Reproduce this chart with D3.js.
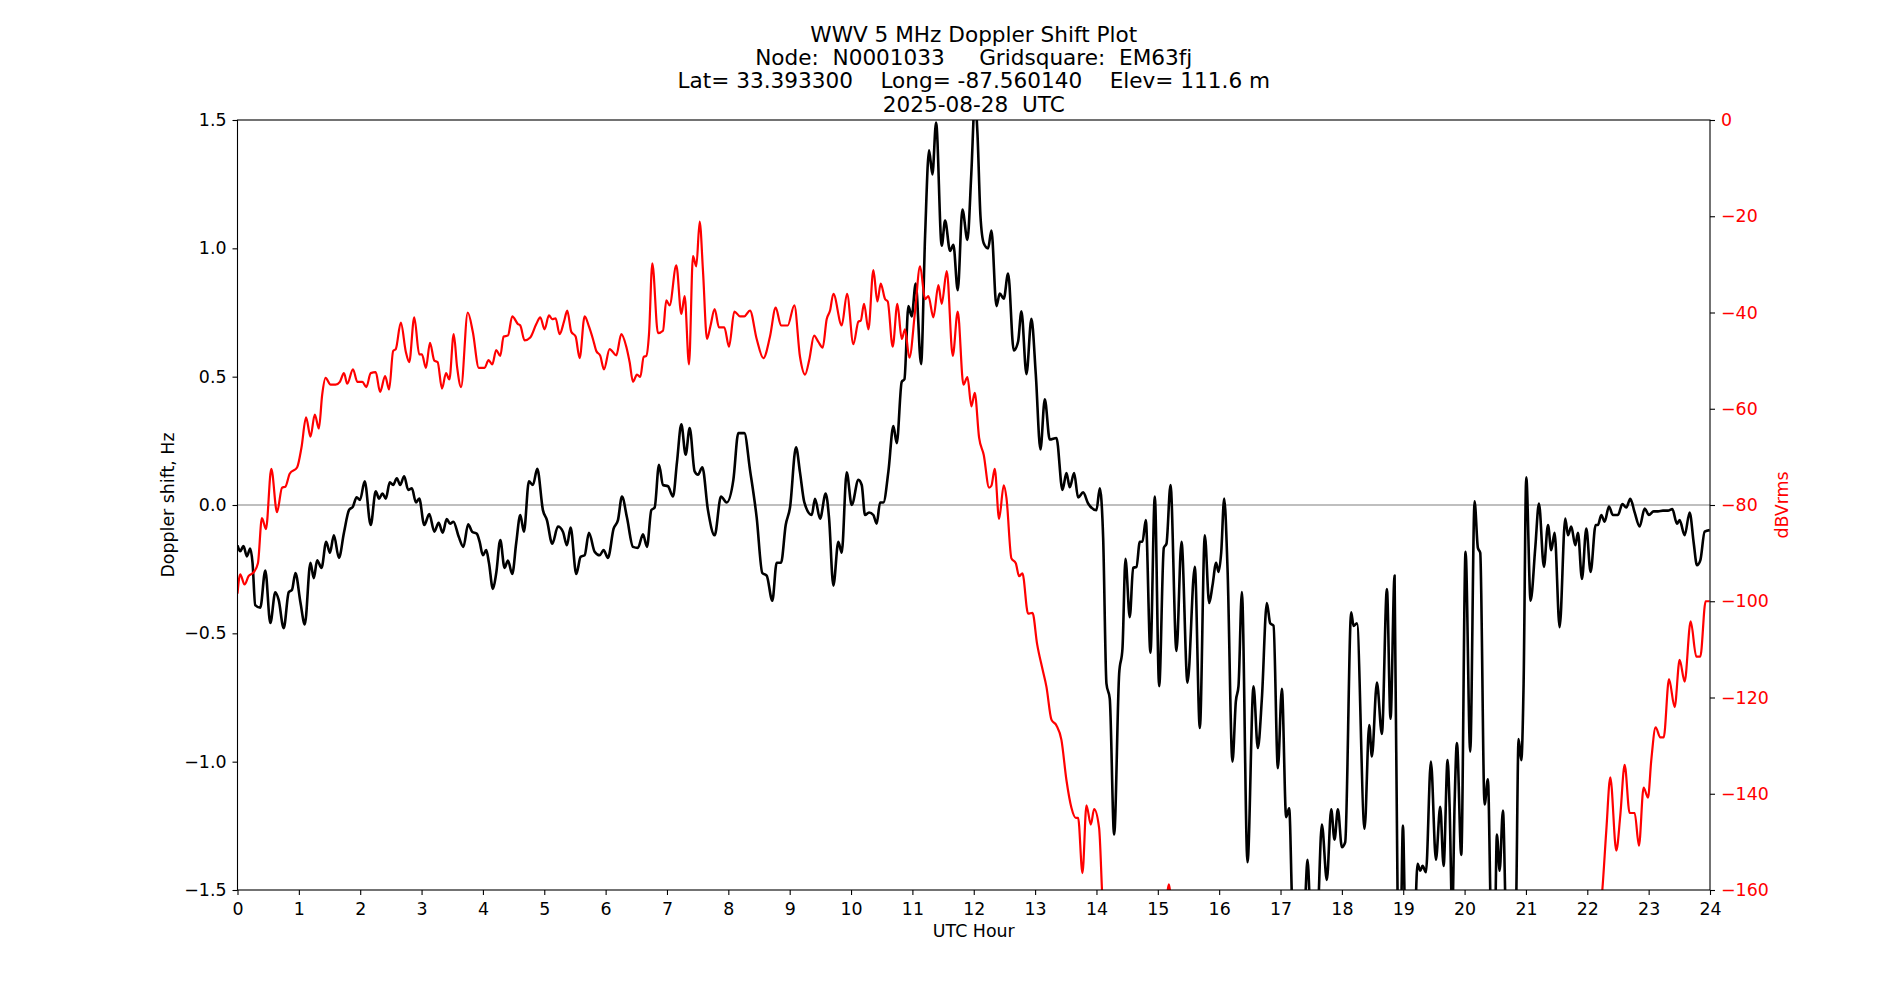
<!DOCTYPE html>
<html>
<head>
<meta charset="utf-8">
<script src="https://cdn.jsdelivr.net/npm/d3@7"></script>
<style>
body { margin: 0; background: #fff; }
text { font-family: "DejaVu Sans", sans-serif; }
</style>
</head>
<body>
<svg id="chart" width="1900" height="1000"></svg>
<script>
// ---- text ----
const titleLines = [
  "WWV 5 MHz Doppler Shift Plot",
  "Node:  N0001033     Gridsquare:  EM63fj",
  "Lat= 33.393300    Long= -87.560140    Elev= 111.6 m",
  "2025-08-28  UTC"
];
const xLabel = "UTC Hour";
const yLeftLabel = "Doppler shift, Hz";
const yRightLabel = "dBVrms";

// ---- ticks ----
const xTicks = d3.range(0, 25, 1);
const leftTicks = [-1.5, -1.0, -0.5, 0.0, 0.5, 1.0, 1.5];
const rightTicks = [-160, -140, -120, -100, -80, -60, -40, -20, 0];

// ---- Doppler shift series (black, left axis) ----
const dopplerHours = [
0.000,0.044,0.098,0.153,0.207,0.245,0.289,0.371,0.453,0.535,0.616,0.671,0.753,0.835,0.889,0.944,1.026,1.097,1.189,1.244,
1.298,1.369,1.446,1.506,1.571,1.653,1.735,1.817,1.882,1.942,1.997,2.073,2.171,2.253,2.308,2.362,2.417,2.482,2.537,2.597,
2.651,2.717,2.782,2.842,2.908,2.962,3.044,3.126,3.208,3.279,3.344,3.410,3.464,3.519,3.606,3.682,3.759,3.824,3.901,3.946,
4.000,4.054,4.098,4.163,4.217,4.283,4.353,4.408,4.478,4.543,4.609,4.668,4.750,4.815,4.886,4.978,5.043,5.130,5.223,5.304,
5.370,5.429,5.522,5.592,5.658,5.728,5.821,5.902,5.967,6.038,6.130,6.201,6.266,6.348,6.446,6.527,6.609,6.674,6.745,6.799,
6.870,6.935,7.016,7.098,7.163,7.234,7.304,7.370,7.451,7.505,7.576,7.668,7.777,7.880,7.973,8.082,8.163,8.261,8.353,8.462,
8.554,8.625,8.717,8.788,8.859,8.935,9.005,9.103,9.168,9.239,9.359,9.413,9.495,9.587,9.641,9.712,9.793,9.848,9.929,10.011,
10.120,10.174,10.228,10.293,10.364,10.418,10.473,10.527,10.609,10.690,10.745,10.826,10.870,10.935,10.989,11.054,11.141,11.207,11.272,11.326,
11.386,11.478,11.533,11.614,11.668,11.739,11.815,11.897,11.960,12.020,12.060,12.109,12.163,12.234,12.288,12.370,12.424,12.489,12.560,12.652,
12.723,12.777,12.859,12.940,13.011,13.087,13.158,13.239,13.348,13.446,13.511,13.565,13.636,13.701,13.783,13.864,14.000,14.054,14.109,14.163,
14.217,14.288,14.370,14.424,14.473,14.543,14.598,14.652,14.707,14.750,14.804,14.880,14.951,15.022,15.098,15.141,15.207,15.304,15.386,15.484,
15.603,15.685,15.766,15.837,15.891,15.951,15.989,16.033,16.082,16.136,16.217,16.272,16.315,16.370,16.462,16.560,16.630,16.696,16.777,16.832,
16.886,16.957,17.022,17.092,17.141,17.196,17.300,17.400,17.440,17.500,17.592,17.674,17.755,17.826,17.880,17.935,18.000,18.054,18.152,18.190,
18.245,18.370,18.446,18.489,18.571,18.652,18.734,18.793,18.859,18.913,18.955,18.995,19.040,19.168,19.234,19.277,19.315,19.370,19.451,19.533,
19.603,19.658,19.723,19.755,19.799,19.837,19.875,19.946,20.016,20.092,20.163,20.217,20.255,20.326,20.380,20.435,20.489,20.527,20.571,20.625,
20.679,20.761,20.832,20.880,20.924,20.962,21.005,21.076,21.152,21.212,21.293,21.359,21.413,21.467,21.549,21.641,21.685,21.739,21.804,21.848,
21.913,21.984,22.054,22.136,22.174,22.228,22.283,22.353,22.418,22.500,22.571,22.636,22.701,22.772,22.853,22.935,23.005,23.082,23.152,23.234,
23.315,23.386,23.462,23.505,23.587,23.668,23.734,23.788,23.842,23.913,23.995
];
const dopplerHz = [
-0.157,-0.18,-0.16,-0.20,-0.17,-0.225,-0.39,-0.40,-0.255,-0.46,-0.34,-0.37,-0.48,-0.34,-0.33,-0.265,-0.38,-0.465,-0.225,-0.285,
-0.215,-0.245,-0.143,-0.186,-0.118,-0.206,-0.108,-0.02,-0.006,0.03,0.02,0.092,-0.078,0.053,0.025,0.045,0.025,0.088,0.078,0.104,
0.078,0.112,0.059,0.065,0.01,0.025,-0.078,-0.035,-0.104,-0.069,-0.108,-0.055,-0.073,-0.065,-0.124,-0.163,-0.075,-0.104,-0.112,-0.143,
-0.196,-0.176,-0.225,-0.327,-0.265,-0.137,-0.245,-0.216,-0.269,-0.147,-0.039,-0.104,0.092,0.078,0.141,-0.02,-0.059,-0.151,-0.084,-0.104,
-0.157,-0.088,-0.269,-0.202,-0.196,-0.108,-0.182,-0.196,-0.176,-0.206,-0.092,-0.059,0.033,-0.049,-0.163,-0.167,-0.114,-0.163,-0.02,-0.01,
0.157,0.078,0.073,0.033,0.167,0.314,0.196,0.300,0.131,0.118,0.147,-0.02,-0.118,0.033,0.01,0.098,0.280,0.280,0.137,-0.049,
-0.265,-0.275,-0.373,-0.225,-0.225,-0.078,-0.01,0.225,0.127,0.01,-0.039,0.024,-0.053,0.045,-0.049,-0.314,-0.143,-0.186,0.127,0.0,
0.098,0.078,-0.039,-0.029,-0.039,-0.073,0.01,0.01,0.131,0.308,0.241,0.48,0.49,0.775,0.735,0.863,0.549,1.049,1.382,1.288,
1.49,1.01,1.108,0.99,1.014,0.837,1.151,1.033,1.29,1.58,1.45,1.127,1.02,1.0,1.069,0.775,0.824,0.804,0.902,0.602,
0.637,0.755,0.51,0.725,0.51,0.216,0.412,0.255,0.261,0.059,0.124,0.069,0.124,0.029,0.049,0.006,-0.02,0.065,-0.127,-0.696,
-0.755,-1.284,-0.657,-0.559,-0.21,-0.437,-0.245,-0.241,-0.143,-0.143,-0.059,-0.575,0.033,-0.706,-0.167,-0.151,0.078,-0.569,-0.143,-0.692,
-0.241,-0.869,-0.118,-0.382,-0.314,-0.225,-0.261,-0.186,0.025,-0.245,-1.0,-0.765,-0.706,-0.339,-1.392,-0.706,-0.947,-0.755,-0.382,-0.461,
-0.47,-1.025,-0.716,-1.216,-1.182,-1.6,-1.8,-1.55,-1.382,-1.65,-1.65,-1.245,-1.461,-1.186,-1.304,-1.186,-1.333,-1.314,-0.418,-0.471,
-0.461,-1.261,-0.857,-0.98,-0.692,-0.892,-0.327,-0.833,-0.275,-1.65,-1.7,-1.249,-1.7,-1.75,-1.398,-1.425,-1.406,-1.431,-1.0,-1.382,
-1.176,-1.406,-0.994,-1.167,-1.6,-1.167,-0.927,-1.363,-0.182,-0.961,0.014,-0.167,-0.186,-1.167,-1.069,-1.65,-1.7,-1.284,-1.425,-1.19,
-1.65,-1.75,-1.65,-0.912,-0.994,-0.696,0.108,-0.373,-0.167,0.006,-0.241,-0.078,-0.176,-0.108,-0.476,-0.053,-0.118,-0.084,-0.157,-0.108,
-0.288,-0.092,-0.261,-0.078,-0.078,-0.039,-0.065,-0.006,-0.039,-0.039,0.004,-0.01,0.024,-0.029,-0.084,-0.014,-0.039,-0.025,-0.025,-0.022,
-0.022,-0.016,-0.073,-0.059,-0.118,-0.029,-0.147,-0.235,-0.216,-0.104,-0.098
];

// ---- received power series (red, right axis) ----
const powerHours = [
0.000,0.044,0.115,0.180,0.262,0.333,0.398,0.464,0.551,0.644,0.726,0.780,0.851,0.971,1.042,1.118,1.189,1.260,1.326,1.380,
1.435,1.517,1.598,1.669,1.735,1.789,1.882,1.953,2.035,2.100,2.171,2.253,2.324,2.406,2.471,2.537,2.580,2.662,2.744,2.799,
2.881,2.962,3.006,3.071,3.137,3.208,3.262,3.333,3.399,3.453,3.524,3.579,3.644,3.753,3.835,3.933,4.027,4.092,4.152,4.217,
4.283,4.337,4.408,4.478,4.571,4.609,4.679,4.772,4.870,4.935,5.005,5.076,5.130,5.185,5.250,5.321,5.375,5.440,5.511,5.576,
5.658,5.728,5.793,5.848,5.913,5.973,6.065,6.174,6.255,6.337,6.391,6.446,6.511,6.565,6.620,6.663,6.707,6.761,6.853,6.935,
6.989,7.043,7.152,7.234,7.288,7.359,7.424,7.478,7.533,7.587,7.652,7.707,7.777,7.848,7.935,8.011,8.098,8.190,8.261,8.353,
8.462,8.571,8.679,8.772,8.859,8.967,9.076,9.168,9.250,9.321,9.397,9.467,9.538,9.603,9.658,9.712,9.848,9.935,10.038,10.120,
10.158,10.212,10.283,10.364,10.429,10.484,10.554,10.598,10.679,10.755,10.826,10.880,10.951,11.043,11.125,11.207,11.261,11.342,11.424,11.478,
11.560,11.658,11.739,11.832,11.897,11.962,12.016,12.087,12.163,12.250,12.288,12.342,12.413,12.489,12.533,12.614,12.685,12.739,12.793,12.886,
12.957,13.033,13.120,13.185,13.266,13.348,13.429,13.511,13.592,13.663,13.701,13.772,13.837,13.908,13.962,14.043,14.098,14.163,14.400,15.000,
15.100,15.180,15.260,15.500,18.000,21.000,22.000,22.150,22.245,22.310,22.375,22.473,22.538,22.609,22.690,22.772,22.842,22.918,22.989,23.043,
23.114,23.190,23.245,23.332,23.424,23.505,23.587,23.685,23.777,23.842,23.929,23.995
];
const powerDb = [
-98.4,-94.4,-96.5,-94.8,-94.0,-92.1,-82.7,-85.0,-72.5,-81.5,-76.4,-76.2,-73.5,-72.2,-68.1,-61.8,-65.8,-61.2,-64.1,-57.1,
-53.6,-55.0,-55.0,-54.4,-52.6,-54.8,-51.8,-54.4,-54.4,-55.5,-52.6,-52.4,-56.5,-53.2,-56.0,-48.0,-47.6,-42.1,-48.2,-50.3,
-41.0,-48.7,-48.7,-51.5,-46.3,-50.0,-50.3,-55.8,-52.6,-53.9,-44.5,-51.3,-55.5,-40.0,-44.0,-51.5,-51.5,-49.9,-50.8,-47.8,
-49.0,-45.0,-44.8,-40.8,-42.4,-42.7,-45.8,-45.2,-42.4,-41.0,-43.5,-40.6,-41.4,-41.2,-44.5,-41.9,-39.6,-44.0,-45.0,-49.5,
-40.8,-42.9,-45.5,-48.0,-49.0,-51.8,-47.6,-48.9,-44.5,-47.1,-50.3,-54.4,-52.9,-53.4,-49.2,-49.0,-44.5,-29.8,-44.3,-43.8,
-37.5,-38.5,-30.2,-40.3,-36.6,-50.8,-28.3,-30.4,-21.1,-31.4,-45.5,-42.9,-39.3,-43.1,-43.1,-47.1,-39.8,-40.8,-40.8,-39.6,
-45.5,-49.5,-45.0,-39.0,-42.7,-42.7,-38.5,-49.2,-52.9,-49.7,-44.8,-46.1,-47.3,-41.4,-39.6,-36.1,-42.7,-36.1,-46.6,-41.9,
-41.7,-38.2,-43.5,-31.2,-37.7,-34.0,-37.2,-37.7,-47.1,-38.2,-45.5,-43.5,-49.4,-39.8,-30.4,-37.2,-36.6,-41.0,-34.3,-38.2,
-31.4,-49.0,-39.8,-55.0,-53.4,-59.5,-56.7,-66.0,-69.6,-76.4,-76.0,-72.5,-82.9,-75.9,-78.5,-91.1,-92.1,-94.8,-94.2,-102.6,
-102.4,-108.9,-114.1,-117.8,-124.6,-125.8,-128.8,-137.2,-142.9,-145.0,-145.0,-156.5,-142.4,-146.4,-143.2,-147.1,-162.0,-172.0,-178.0,-176.0,
-170.0,-158.8,-170.0,-178.0,-180.0,-180.0,-176.0,-170.0,-160.0,-147.6,-136.6,-151.8,-144.5,-134.0,-144.0,-144.0,-150.8,-138.7,-140.8,-133.0,
-126.2,-128.3,-128.3,-116.2,-122.0,-112.2,-116.7,-104.2,-111.5,-111.5,-100.0,-100.0
];

// ---- layout ----
const W = 1900, H = 1000;
const pL = 237.5, pR = 1710, pT = 120, pB = 890;
const svg = d3.select("#chart");

const x = d3.scaleLinear().domain([0, 24]).range([pL, pR]);
const yL = d3.scaleLinear().domain([-1.5, 1.5]).range([pB, pT]);
const yR = d3.scaleLinear().domain([-160, 0]).range([pB, pT]);

const tickFont = 17.4;

svg.append("defs").append("clipPath").attr("id", "plotClip")
  .append("rect").attr("x", pL).attr("y", pT)
  .attr("width", pR - pL).attr("height", pB - pT);

// zero line
svg.append("line")
  .attr("x1", pL).attr("x2", pR)
  .attr("y1", yL(0)).attr("y2", yL(0))
  .attr("stroke", "#808080").attr("stroke-width", 1.2);

const plot = svg.append("g").attr("clip-path", "url(#plotClip)");

const dopplerData = dopplerHours.map((h, i) => [h, dopplerHz[i]]);
const powerData = powerHours.map((h, i) => [h, powerDb[i]]);

plot.append("path")
  .datum(dopplerData)
  .attr("fill", "none")
  .attr("stroke", "#000")
  .attr("stroke-width", 2.6)
  .attr("stroke-linejoin", "round")
  .attr("d", d3.line().x(d => x(d[0])).y(d => yL(d[1])).curve(d3.curveMonotoneX));

plot.append("path")
  .datum(powerData)
  .attr("fill", "none")
  .attr("stroke", "#ff0000")
  .attr("stroke-width", 2.2)
  .attr("stroke-linejoin", "round")
  .attr("d", d3.line().x(d => x(d[0])).y(d => yR(d[1])).curve(d3.curveMonotoneX));

// axes
const fmtL = d3.format(".1f");
const fmtR = d3.format("d");

const gx = svg.append("g").attr("transform", `translate(0,${pB})`)
  .call(d3.axisBottom(x).tickValues(xTicks).tickFormat(d3.format("d")).tickSize(5).tickPadding(7).tickSizeOuter(0));
const gl = svg.append("g").attr("transform", `translate(${pL},0)`)
  .call(d3.axisLeft(yL).tickValues(leftTicks).tickFormat(fmtL).tickSize(5).tickPadding(6).tickSizeOuter(0));
const gr = svg.append("g").attr("transform", `translate(${pR},0)`)
  .call(d3.axisRight(yR).tickValues(rightTicks).tickFormat(fmtR).tickSize(5).tickPadding(6).tickSizeOuter(0));

[gx, gl, gr].forEach(g => {
  g.select(".domain").remove();
  g.selectAll(".tick line").attr("stroke", "#000").attr("stroke-width", 1.1);
  g.selectAll(".tick text").attr("font-family", "DejaVu Sans").attr("font-size", tickFont).attr("fill", "#000");
});
gr.selectAll(".tick text").attr("fill", "#ff0000");
gx.selectAll(".tick text").attr("dy", "0.74em");

// frame
svg.append("rect")
  .attr("x", pL).attr("y", pT)
  .attr("width", pR - pL).attr("height", pB - pT)
  .attr("fill", "none").attr("stroke", "#000").attr("stroke-width", 1.1);

// axis labels
svg.append("text")
  .attr("x", (pL + pR) / 2).attr("y", 937)
  .attr("text-anchor", "middle").attr("font-size", tickFont).attr("fill", "#000")
  .text(xLabel);

svg.append("text")
  .attr("transform", `translate(168,${(pT + pB) / 2}) rotate(-90)`)
  .attr("text-anchor", "middle").attr("dominant-baseline", "central")
  .attr("font-size", tickFont).attr("fill", "#000")
  .text(yLeftLabel);

svg.append("text")
  .attr("transform", `translate(1782,${(pT + pB) / 2}) rotate(-90)`)
  .attr("text-anchor", "middle").attr("dominant-baseline", "central")
  .attr("font-size", tickFont).attr("fill", "#ff0000")
  .text(yRightLabel);

// title
const titleBaselines = [41.5, 65, 88.3, 111.5];
svg.append("g").selectAll("text").data(titleLines).join("text")
  .attr("x", (pL + pR) / 2)
  .attr("y", (d, i) => titleBaselines[i])
  .attr("text-anchor", "middle")
  .attr("font-size", 21.6)
  .attr("fill", "#000")
  .style("white-space", "pre")
  .attr("xml:space", "preserve")
  .text(d => d);
</script>
</body>
</html>
